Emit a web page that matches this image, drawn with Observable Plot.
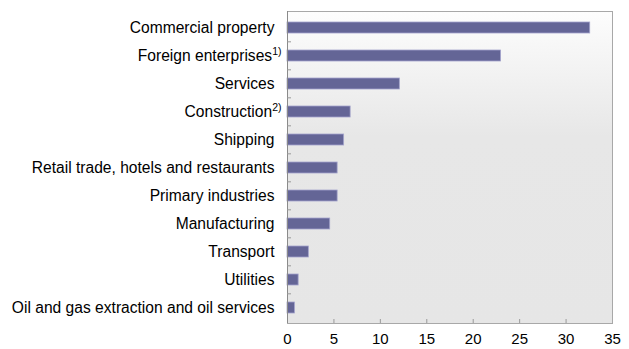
<!DOCTYPE html>
<html>
<head>
<meta charset="utf-8">
<script src="https://cdn.jsdelivr.net/npm/d3@7"></script>
<script src="https://cdn.jsdelivr.net/npm/@observablehq/plot@0.6"></script>
<style>
  html, body { margin: 0; padding: 0; background: #fff; }
</style>
</head>
<body>
<div id="chart"></div>
<script>
const categories = [
  "Commercial property",
  "Foreign enterprises",
  "Services",
  "Construction",
  "Shipping",
  "Retail trade, hotels and restaurants",
  "Primary industries",
  "Manufacturing",
  "Transport",
  "Utilities",
  "Oil and gas extraction and oil services"
];
const values = [32.6, 23.0, 12.1, 6.8, 6.1, 5.4, 5.4, 4.6, 2.3, 1.2, 0.8];
const footnotes = ["", "1)", "", "2)", "", "", "", "", "", "", ""];
const xTicks = [0, 5, 10, 15, 20, 25, 30, 35];

const data = categories.map((c, i) => ({category: c, value: values[i], note: footnotes[i]}));

const W = 629, H = 349, mT = 11, mB = 26, mL = 287, mR = 17;
const step = (H - mT - mB) / categories.length;

function gradientDefs() {
  const ns = "http://www.w3.org/2000/svg";
  const defs = document.createElementNS(ns, "defs");
  const lg = document.createElementNS(ns, "linearGradient");
  lg.setAttribute("id", "bgGrad");
  lg.setAttribute("x1", "0"); lg.setAttribute("y1", "0");
  lg.setAttribute("x2", "0"); lg.setAttribute("y2", "1");
  [["0%", "#fdfdfd"], ["40%", "#e7e7e7"], ["100%", "#e6e6e6"]].forEach(([o, c]) => {
    const s = document.createElementNS(ns, "stop");
    s.setAttribute("offset", o); s.setAttribute("stop-color", c);
    lg.appendChild(s);
  });
  defs.appendChild(lg);
  return defs;
}

const chart = Plot.plot({
  width: W, height: H,
  marginTop: mT, marginBottom: mB, marginLeft: mL, marginRight: mR,
  style: {fontFamily: "'Liberation Sans', Arial, sans-serif", fontSize: "15px", color: "#000", background: "#fff"},
  x: {domain: [0, 35], label: null},
  y: {domain: categories, paddingInner: 0.61, paddingOuter: 0.305, label: null},
  marks: [
    gradientDefs,
    Plot.frame({fill: "url(#bgGrad)", stroke: "#a8a8a8"}),
    Plot.barX(data, {x: "value", y: "category", fill: "#646596", stroke: "#a4a4cc", strokeWidth: 0.8}),
    Plot.ruleX([0], {stroke: "#8a8a8a"}),
    Plot.axisX({ticks: xTicks, tickSize: 0, tickPadding: 10, fontSize: 15, fill: "#000"}),
    Plot.axisX({ticks: xTicks.slice(1, -1), tickSize: -4, text: null, stroke: "#9a9a9a"}),
    Plot.axisY({tickSize: 0, tickPadding: 13, fontSize: 15.6, fill: "#000"}),
    Plot.axisY({ticks: categories.slice(1), tickSize: -4, text: null, dy: -step / 2, stroke: "#9a9a9a"})
  ]
});

// add footnote superscripts to the category labels
chart.querySelectorAll('g[aria-label="y-axis tick label"] text').forEach(t => {
  const i = categories.indexOf(t.textContent);
  if (i >= 0 && footnotes[i]) {
    const ts = document.createElementNS("http://www.w3.org/2000/svg", "tspan");
    ts.setAttribute("dy", "-6");
    ts.setAttribute("font-size", "10.5");
    ts.textContent = footnotes[i];
    t.appendChild(ts);
    t.setAttribute("dx", "7");
  }
});

document.getElementById("chart").appendChild(chart);
</script>
</body>
</html>
